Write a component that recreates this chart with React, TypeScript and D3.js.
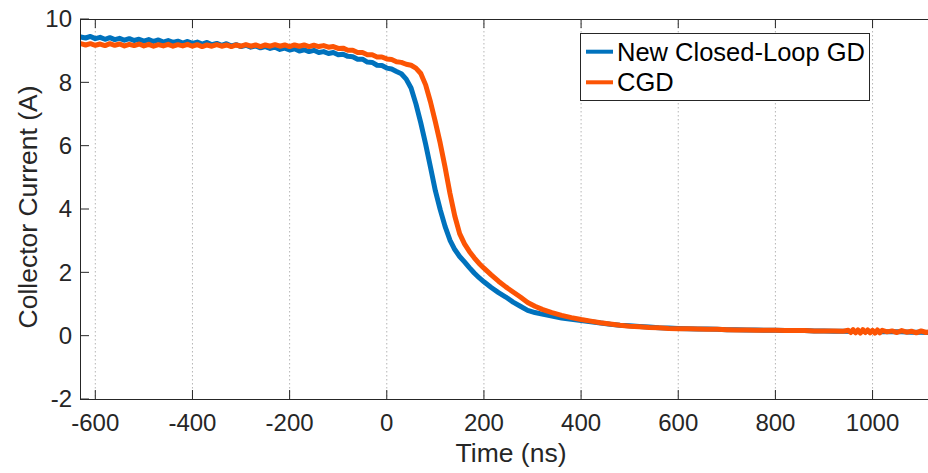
import React from "react";
import * as d3 from "d3";

const xTicks = [-600, -400, -200, 0, 200, 400, 600, 800, 1000];
const yTicks = [-2, 0, 2, 4, 6, 8, 10];
const seriesNames = ["New Closed-Loop GD", "CGD"];
const seriesColors = ["#0072BD", "#FC5404"];

const blueSeries: [number, number][] = [
  [-630,9.43],[-620,9.40],[-610,9.45],[-600,9.38],[-590,9.42],[-580,9.36],[-570,9.41],[-560,9.35],[-550,9.39],[-540,9.33],
  [-530,9.38],[-520,9.32],[-510,9.36],[-500,9.30],[-490,9.35],[-480,9.29],[-470,9.34],[-460,9.27],[-450,9.32],[-440,9.26],
  [-430,9.30],[-420,9.24],[-410,9.29],[-400,9.23],[-390,9.27],[-380,9.21],[-370,9.26],[-360,9.19],[-350,9.23],[-340,9.17],
  [-330,9.22],[-320,9.15],[-310,9.19],[-300,9.13],[-290,9.17],[-280,9.11],[-270,9.15],[-260,9.09],[-250,9.13],[-240,9.07],
  [-230,9.11],[-220,9.04],[-210,9.08],[-200,9.02],[-190,9.06],[-180,8.99],[-170,9.03],[-160,8.97],[-150,9.01],[-140,8.94],
  [-130,8.97],[-120,8.91],[-110,8.94],[-100,8.87],[-90,8.89],[-80,8.82],[-70,8.81],[-60,8.73],[-50,8.73],[-40,8.64],
  [-30,8.63],[-20,8.54],[-10,8.53],[0,8.45],[10,8.42],[20,8.34],[30,8.27],[40,8.10],[50,7.82],[60,7.32],[70,6.72],
  [80,6.05],[90,5.32],[100,4.58],[110,3.98],[120,3.45],[130,3.02],[140,2.72],[150,2.50],[160,2.33],[170,2.15],[180,1.98],
  [190,1.83],[200,1.70],[215,1.52],[230,1.36],[245,1.22],[260,1.06],[275,0.93],[290,0.80],[305,0.73],[320,0.68],[340,0.62],
  [360,0.56],[380,0.52],[400,0.48],[420,0.44],[440,0.40],[460,0.36],[480,0.33],[500,0.31],[520,0.29],[540,0.27],[560,0.25],
  [580,0.24],[600,0.23],[620,0.22],[640,0.21],[660,0.21],[680,0.20],[700,0.19],[720,0.19],[740,0.18],[760,0.18],[780,0.17],
  [800,0.17],[820,0.16],[840,0.16],[860,0.16],[880,0.15],[900,0.15],[920,0.14],[940,0.14],[960,0.13],[980,0.13],[1000,0.13],
  [1020,0.12],[1040,0.12],[1060,0.12],[1080,0.11],[1100,0.11],[1120,0.10],[1145,0.10]
];

const orangeSeries: [number, number][] = [
  [-630,9.22],[-620,9.18],[-610,9.22],[-600,9.17],[-590,9.21],[-580,9.16],[-570,9.22],[-560,9.17],[-550,9.21],[-540,9.15],
  [-530,9.20],[-520,9.16],[-510,9.21],[-500,9.15],[-490,9.20],[-480,9.14],[-470,9.19],[-460,9.15],[-450,9.20],[-440,9.14],
  [-430,9.19],[-420,9.15],[-410,9.20],[-400,9.14],[-390,9.19],[-380,9.13],[-370,9.18],[-360,9.14],[-350,9.19],[-340,9.14],
  [-330,9.18],[-320,9.13],[-310,9.18],[-300,9.14],[-290,9.19],[-280,9.14],[-270,9.18],[-260,9.13],[-250,9.18],[-240,9.14],
  [-230,9.19],[-220,9.14],[-210,9.18],[-200,9.13],[-190,9.18],[-180,9.14],[-170,9.18],[-160,9.13],[-150,9.17],[-140,9.13],
  [-130,9.16],[-120,9.11],[-110,9.13],[-100,9.07],[-90,9.08],[-80,9.01],[-70,9.01],[-60,8.94],[-50,8.94],[-40,8.87],
  [-30,8.87],[-20,8.80],[-10,8.80],[0,8.74],[10,8.72],[20,8.65],[30,8.63],[40,8.57],[50,8.54],[60,8.45],[70,8.28],
  [80,7.92],[90,7.38],[100,6.75],[110,6.08],[120,5.32],[130,4.50],[140,3.78],[150,3.22],[160,2.90],[170,2.66],[180,2.46],
  [190,2.28],[200,2.13],[215,1.92],[230,1.72],[245,1.54],[260,1.38],[275,1.22],[290,1.05],[305,0.93],[320,0.83],[340,0.73],
  [360,0.64],[380,0.57],[400,0.51],[420,0.46],[440,0.41],[460,0.37],[480,0.33],[500,0.30],[520,0.28],[540,0.26],[560,0.25],
  [580,0.23],[600,0.22],[620,0.22],[640,0.21],[660,0.20],[680,0.20],[700,0.19],[720,0.18],[740,0.18],[760,0.17],[780,0.17],
  [800,0.17],[820,0.16],[840,0.16],[860,0.16],[880,0.15],[900,0.15],[920,0.15],[940,0.14],[950,0.17],[955,0.10],[960,0.19],
  [965,0.09],[970,0.18],[975,0.08],[980,0.19],[985,0.10],[990,0.18],[995,0.09],[1000,0.17],[1005,0.08],[1010,0.18],
  [1015,0.09],[1020,0.17],[1030,0.12],[1040,0.15],[1050,0.10],[1060,0.16],[1070,0.11],[1080,0.14],[1090,0.09],[1100,0.15],
  [1110,0.10],[1120,0.14],[1130,0.09],[1145,0.12]
];

const W = 928;
const H = 473;
const L = 80, R = 943, T = 19, B = 399;
const FONT = "'Liberation Sans', Arial, Helvetica, sans-serif";
const AX = "#262626";

export default function App() {
  const x = d3.scaleLinear().domain([-631.5, 1145]).range([L, R]);
  const y = d3.scaleLinear().domain([-2, 10]).range([B, T]);
  const line = d3.line<[number, number]>().x(d => x(d[0])).y(d => y(d[1])).curve(d3.curveLinear);
  const series = [blueSeries, orangeSeries];

  return (
    <svg width={W} height={H} style={{ position: "absolute", left: 0, top: 0, background: "#fff" }}>
      <defs>
        <clipPath id="plotclip">
          <rect x={L} y={T} width={R - L} height={B - T} />
        </clipPath>
      </defs>
      <rect x={0} y={0} width={W} height={H} fill="#fff" />
      {xTicks.map(t => (
        <line key={"g" + t} x1={x(t)} x2={x(t)} y1={T} y2={B} stroke="#b5b5b5" strokeWidth={1} strokeDasharray="1.5,2.5" />
      ))}
      <g clipPath="url(#plotclip)">
        {series.map((s, i) => (
          <path key={i} d={line(s) || ""} fill="none" stroke={seriesColors[i]} strokeWidth={5} strokeLinejoin="round" strokeLinecap="round" />
        ))}
      </g>
      <line x1={L} x2={R} y1={B + 0.5} y2={B + 0.5} stroke={AX} strokeWidth={1} />
      <line x1={L} x2={R} y1={T + 0.5} y2={T + 0.5} stroke={AX} strokeWidth={1} />
      <line x1={L + 0.5} x2={L + 0.5} y1={T} y2={B + 1} stroke={AX} strokeWidth={1} />
      {xTicks.map(t => (
        <g key={"xt" + t}>
          <line x1={x(t)} x2={x(t)} y1={B} y2={B - 9} stroke={AX} strokeWidth={1} />
          <line x1={x(t)} x2={x(t)} y1={T} y2={T + 9} stroke={AX} strokeWidth={1} />
          <text x={x(t)} y={431} textAnchor="middle" fontFamily={FONT} fontSize={24} fill={AX}>{t}</text>
        </g>
      ))}
      {yTicks.map(t => (
        <g key={"yt" + t}>
          <line x1={L} x2={L + 9} y1={y(t)} y2={y(t)} stroke={AX} strokeWidth={1} />
          <text x={72} y={y(t)} dy="0.35em" textAnchor="end" fontFamily={FONT} fontSize={24} fill={AX}>{t}</text>
        </g>
      ))}
      <text x={511} y={462} textAnchor="middle" fontFamily={FONT} fontSize={26.5} fill={AX}>Time (ns)</text>
      <text transform={`translate(37,207) rotate(-90)`} textAnchor="middle" fontFamily={FONT} fontSize={26.5} fill={AX}>Collector Current (A)</text>
      <rect x={580.5} y={33.5} width={289} height={67} fill="#fff" stroke={AX} strokeWidth={1} />
      {seriesNames.map((n, i) => {
        const cy = 51.7 + i * 30.6;
        return (
          <g key={n}>
            <line x1={586} x2={613} y1={cy} y2={cy} stroke={seriesColors[i]} strokeWidth={4} />
            <text x={617} y={cy + 9} fontFamily={FONT} fontSize={25.5} fill="#000">{n}</text>
          </g>
        );
      })}
    </svg>
  );
}
